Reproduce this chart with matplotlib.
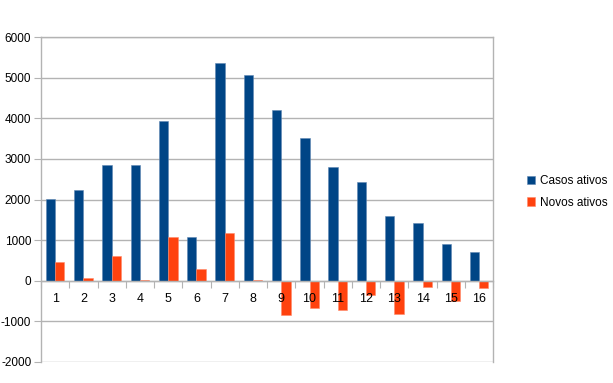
import matplotlib.pyplot as plt
import numpy as np

# Data
categories = [str(i) for i in range(1, 17)]
casos_ativos = [2010, 2235, 2850, 2855, 3945, 1085, 5375, 5065,
                4210, 3520, 2790, 2420, 1585, 1420, 905, 715]
novos_ativos = [465, 55, 615, 8, 1085, 285, 1170, 8,
                -845, -675, -715, -345, -830, -155, -495, -180]

blue = "#004586"
orange = "#ff420e"
grey = "#b3b3b3"

plt.rcParams["font.family"] = ["Liberation Sans", "DejaVu Sans"]
plt.rcParams["axes.unicode_minus"] = False

fig = plt.figure(figsize=(6.13, 3.83), dpi=100)
ax = fig.add_axes([41 / 613, 1 - 361.7 / 383, (493.3 - 41) / 613, (361.7 - 37.3) / 383])

yticks = np.arange(-2000, 6001, 1000)
# gridlines drawn as plain lines so bars cover them but tick labels stay on top
for y in yticks:
    ax.axhline(y, color=grey, linewidth=1, zorder=0)

x = np.arange(1, len(categories) + 1)
w = 0.33
ax.bar(x - w / 2, casos_ativos, w, color=blue, edgecolor="#5f87b3", linewidth=0.4, label="Casos ativos", zorder=2)
ax.bar(x + w / 2, novos_ativos, w, color=orange, edgecolor="#ff8a6a", linewidth=0.4, label="Novos ativos", zorder=2)

ax.set_xlim(0.5, len(categories) + 0.5)
ax.set_ylim(-2000, 6000)
ax.set_yticks(yticks)
ax.tick_params(axis="y", direction="out", length=5, color=grey, labelsize=8.5, pad=2)

# x axis sits on zero, ticks at category boundaries, labels at centres
ax.spines["bottom"].set_position(("data", 0))
ax.set_xticks(np.arange(0.5, len(categories) + 1, 1))
ax.set_xticklabels([])
ax.set_xticks(x, minor=True)
ax.set_xticklabels(categories, minor=True)
ax.tick_params(axis="x", which="major", direction="out", length=5, color=grey)
ax.tick_params(axis="x", which="minor", length=0, labelsize=9, pad=9)
ax.xaxis.set_zorder(5)

for side in ["left", "right", "top", "bottom"]:
    ax.spines[side].set_color(grey)
    ax.spines[side].set_linewidth(1)
ax.spines["bottom"].set_zorder(4)

fig.legend(loc="center left", bbox_to_anchor=(516 / 613, 1 - 192 / 383), frameon=False,
           fontsize=8.5, handlelength=0.7, handleheight=0.7, handletextpad=0.4, labelspacing=0.8)

fig.savefig("out.png", dpi=100)
